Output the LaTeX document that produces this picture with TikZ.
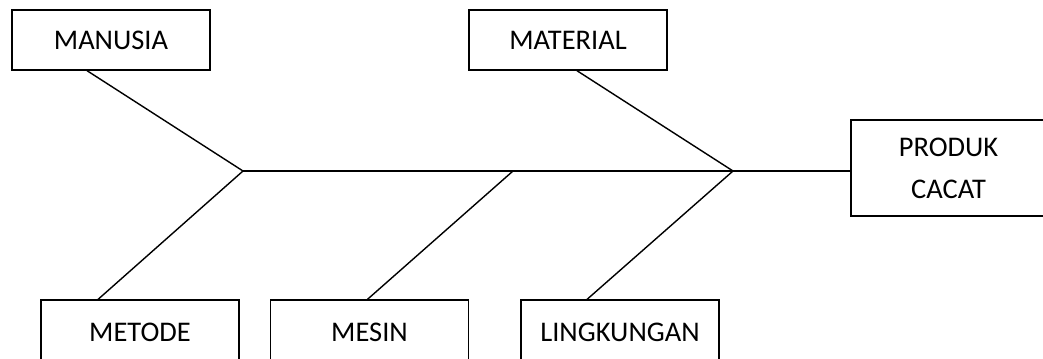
\documentclass[tikz,border=0pt]{standalone}
\usepackage{fontspec}
\setmainfont{Carlito}
\usetikzlibrary{positioning,calc}

\begin{document}
\begin{tikzpicture}[x=0.02cm,y=-0.02cm,line width=0.8pt]
\tikzset{cause/.style={draw,rectangle,minimum width=3.96cm,minimum height=1.2cm,
  inner sep=0pt,font=\fontsize{16.2}{24}\selectfont}}
\useasboundingbox (0,0) rectangle (1043,358);
\begin{scope}[every node/.style={cause}]
  \node (manusia) at (111,40) {MANUSIA};
  \node (material) at (568,40) {MATERIAL};
  \node[minimum width=3.9cm,minimum height=1.92cm,align=center,
        font=\fontsize{16.2}{24}\selectfont] (produk) at (948.5,168) {PRODUK\\CACAT};
  % bottom boxes run past the lower edge
  \node[minimum height=1.3cm] (metode) at (140,332.5) {METODE};
  \node[minimum height=1.3cm] (mesin) at (369.5,332.5) {MESIN};
  \node[minimum height=1.3cm] (lingkungan) at (620,332.5) {LINGKUNGAN};
\end{scope}
  \coordinate (j1) at (243,171);
  \coordinate (j2) at (513,171);
  \coordinate (j3) at (733,171);
  \draw (j1) -- (j1 -| produk.west);
  \draw ($(manusia.south west)!0.38!(manusia.south east)$) -- (j1);
  \draw ($(material.south west)!0.545!(material.south east)$) -- (j3);
  \draw ($(metode.north west)!0.29!(metode.north east)$) -- (j1);
  \draw ($(mesin.north west)!0.49!(mesin.north east)$) -- (j2);
  \draw ($(lingkungan.north west)!0.335!(lingkungan.north east)$) -- (j3);
\end{tikzpicture}
\end{document}
